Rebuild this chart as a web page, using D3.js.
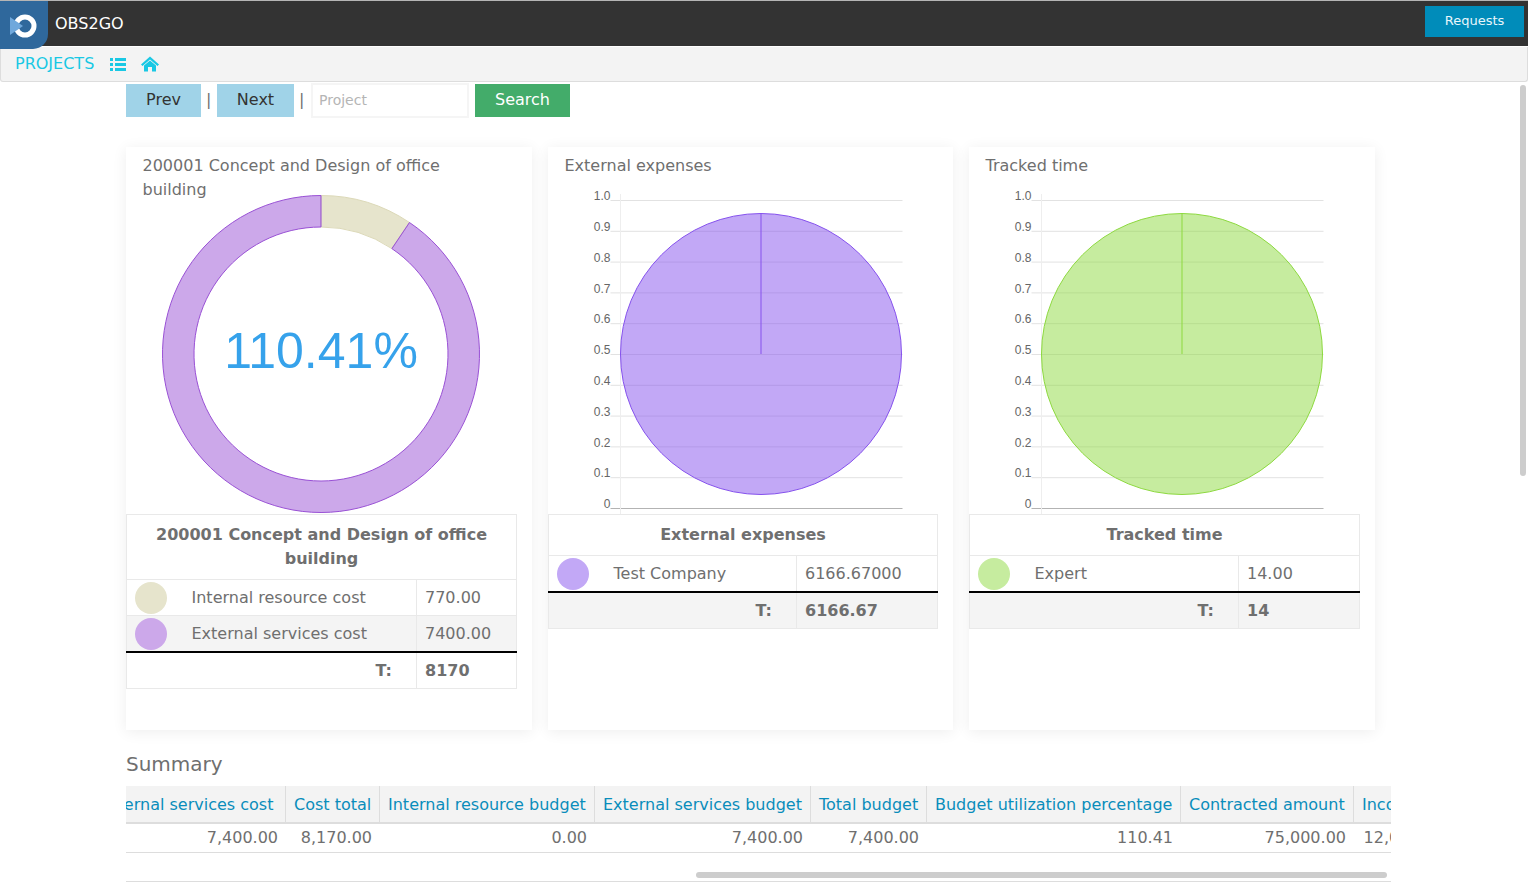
<!DOCTYPE html>
<html>
<head>
<meta charset="utf-8">
<title>OBS2GO</title>
<script src="https://cdnjs.cloudflare.com/ajax/libs/d3/7.8.5/d3.min.js"></script>
<style>
  html, body { margin: 0; padding: 0; width: 1528px; height: 885px; overflow: hidden; background: #fff; }
  body { font-family: "DejaVu Sans", sans-serif; color: #6f6f6f; position: relative; }
  .abs { position: absolute; box-sizing: border-box; white-space: nowrap; }
  .btn { text-align: center; line-height: 31px; font-size: 16px; }
  .card { background: #fff; box-shadow: 0 2px 14px rgba(0,0,0,.07); }
  .cardtitle { font-size: 16px; line-height: 24px; color: #6f6f6f; white-space: normal; }
  table { border-collapse: collapse; table-layout: fixed; font-size: 16px; color: #6f6f6f; position: absolute; }
  .legend td { border: 1px solid #e9e9e9; padding: 0 8px; height: 35px; box-sizing: border-box; position: relative; }
  .legend th { border: 1px solid #e9e9e9; padding: 8px 20px; font-weight: bold; line-height: 24px; }
  .legend tr.total td { border-top: 2px solid #000; font-weight: bold; }
  .legend tr.shade td { background: #f4f4f4; }
  .dot { position: absolute; border-radius: 50%; width: 32px; height: 32px; left: 8px; top: 1.5px; }
  #scroller { left: 126px; top: 786px; width: 1265px; height: 68px; overflow: hidden; }
  .col { position: absolute; top: 0; box-sizing: border-box; }
  .head { height: 38px; line-height: 38px; padding: 0 8px; color: #0a8dbb; background: #f3f3f3; border-right: 1px solid #ddd; border-bottom: 2px solid #ddd; overflow: hidden; }
  .val { height: 29px; line-height: 28px; padding: 0 8px; text-align: right; border-bottom: 1px solid #ddd; font-size: 16px; }
  svg { position: absolute; left: 0; top: 0; pointer-events: none; }
</style>
</head>
<body>
<div class="abs" style="left:0;top:0;width:1528px;height:1px;background:#b5b5b5"></div>
<div class="abs" style="left:0;top:1px;width:1528px;height:45px;background:#333"></div>
<div class="abs" style="left:0;top:47px;width:1528px;height:35px;background:#f3f3f3;border:1px solid #ddd;border-top:none;border-radius:0 0 3px 3px"></div>
<div class="abs" style="left:0;top:1px;width:48px;height:48px;background:#2f689c;border-radius:0 0 15px 0"></div>
<div class="abs" style="left:55px;top:13px;font-size:16px;line-height:22px;color:#fff">OBS2GO</div>
<div class="abs" style="left:1425px;top:6px;width:99px;height:31px;background:#008cba;color:#e8f6fb;font-size:13px;line-height:29px;text-align:center">Requests</div>
<div class="abs" style="left:15px;top:53px;font-size:16px;line-height:22px;color:#19c8e4">PROJECTS</div>

<div class="abs btn" style="left:126px;top:84px;width:75px;height:33px;background:#a0d3e8;color:#333">Prev</div>
<div class="abs" style="left:206px;top:89px;font-size:16px;line-height:22px">|</div>
<div class="abs btn" style="left:217px;top:84px;width:77px;height:33px;background:#a0d3e8;color:#333">Next</div>
<div class="abs" style="left:299px;top:89px;font-size:16px;line-height:22px">|</div>
<div class="abs" style="left:311px;top:83px;width:158px;height:35px;border:2px solid #f5f5f5;padding-left:6px;font-size:14px;line-height:31px;color:#b5b5b5">Project</div>
<div class="abs btn" style="left:475px;top:84px;width:95px;height:33px;background:#43ac6a;color:#fff">Search</div>

<div class="abs" style="left:126px;top:751px;font-size:20px;line-height:26px">Summary</div>
<div class="abs" id="scroller"></div>
<div class="abs" style="left:696px;top:872px;width:691px;height:6px;background:#cdcdcd;border-radius:3px"></div>
<div class="abs" style="left:126px;top:881px;width:1265px;height:1px;background:#ddd"></div>
<div class="abs" style="left:1520px;top:85px;width:6px;height:391px;background:#cdcdcd;border-radius:3px"></div>

<script>
  const costs = [
    {name: "Internal resource cost", value: 770, label: "770.00", fill: "rgba(205,201,153,.5)", stroke: "#dcd9b8", dot: "#e6e4cc"},
    {name: "External services cost", value: 7400, label: "7400.00", fill: "rgba(153,81,213,.5)", stroke: "#9951d5", dot: "#cca8ea"}
  ]

  const panels = [
    {left: 548, title: "External expenses", split: 248, width: 389, cx: 761, axisX: 620,
     fill: "rgba(133,81,237,.5)", stroke: "#8551ed", dot: "#c2a8f6",
     rows: [{name: "Test Company", value: 6166.67, label: "6166.67000"}], total: "6166.67"},
    {left: 969, title: "Tracked time", split: 269, width: 390, cx: 1182, axisX: 1041,
     fill: "rgba(141,217,63,.5)", stroke: "#8dd93f", dot: "#c6ec9f",
     rows: [{name: "Expert", value: 14, label: "14.00"}], total: "14"}
  ]

  const summary = [
    {head: "External services cost", value: "7,400.00", x: -36, w: 196},
    {head: "Cost total", value: "8,170.00", x: 160, w: 94},
    {head: "Internal resource budget", value: "0.00", x: 254, w: 215},
    {head: "External services budget", value: "7,400.00", x: 469, w: 216},
    {head: "Total budget", value: "7,400.00", x: 685, w: 116},
    {head: "Budget utilization percentage", value: "110.41", x: 801, w: 254},
    {head: "Contracted amount", value: "75,000.00", x: 1055, w: 173},
    {head: "Income", value: "12,000.00", x: 1228, w: 99},
    {head: "Gpm", value: "31.92", x: 1327, w: 62}
  ]

  const body = d3.select("body")

  // cards
  const cards = [{x: 126, t: "200001 Concept and Design of office building"},
                 {x: 548, t: panels[0].title}, {x: 969, t: panels[1].title}]
  cards.forEach(c => {
    body.insert("div", "script").attr("class", "abs card")
      .style("left", c.x + "px").style("top", "147px")
      .style("width", (c.x == 126 ? 406 : c.x == 548 ? 405 : 406) + "px").style("height", "583px")
    body.insert("div", "script").attr("class", "abs cardtitle")
      .style("left", (c.x + 16.5) + "px").style("top", "154px").style("width", "340px").text(c.t)
  })

  const svg = body.append("svg").attr("width", 1528).attr("height", 885)

  // logo and nav icons
  const logo = svg.append("g").attr("transform", "translate(25,26)")
  logo.append("circle").attr("r", 9).attr("fill", "none").attr("stroke", "#fff").attr("stroke-width", 5)
  logo.append("path").attr("d", "M-15,-9L-2,0L-15,9Z").attr("fill", "#6fa8dc")
  const nav = svg.append("g").attr("fill", "#19c8e4")
  d3.range(3).forEach(i => {
    nav.append("rect").attr("x", 110).attr("y", 58 + i * 5).attr("width", 3).attr("height", 3)
    nav.append("rect").attr("x", 115).attr("y", 58 + i * 5).attr("width", 11).attr("height", 3)
  })
  nav.append("path").attr("d", "M150,56.5L159,64.5L157.5,66L150,59.5L142.5,66L141,64.5Z")
  nav.append("path").attr("d", "M144,65.5L150,60.5L156,65.5V71.5H152V67H148V71.5H144Z")

  // donut
  const pie = d3.pie().sort(null).value(d => d.value)
  const arc = d3.arc().innerRadius(127).outerRadius(158.5)
  svg.append("g").attr("transform", "translate(321,354)")
    .selectAll("path").data(pie(costs)).join("path")
    .attr("d", arc).attr("fill", d => d.data.fill).attr("stroke", d => d.data.stroke)

  svg.append("text").attr("x", 321).attr("y", 368).attr("text-anchor", "middle")
    .attr("font-family", "Liberation Sans").attr("font-size", 50).attr("fill", "#36a2eb")
    .text("110.41%")

  // pies with axes
  const y = d3.scaleLinear().domain([0, 1]).range([508, 200])
  panels.forEach(p => {
    const g = svg.append("g")
    const ay = g.append("g").attr("transform", `translate(${p.axisX + 0.5},0)`)
      .call(d3.axisLeft(y).tickValues(d3.range(0, 11).map(d => d / 10)).tickSize(10).tickPadding(0)
        .tickFormat(d => d === 0 ? "0" : d.toFixed(1)))
    ay.select(".domain").remove()
    ay.selectAll("text").attr("font-family", "Liberation Sans").attr("font-size", 12).attr("fill", "#666").attr("dy", "-0.02em")
    ay.selectAll(".tick line").attr("stroke", "#e2e2e2")
    ay.selectAll(".tick").append("line").attr("x1", 0).attr("x2", 282)
      .attr("stroke", d => d === 0 ? "#b3b3b3" : "#e2e2e2")
    ay.selectAll(".tick").filter(d => d === 0).select("line").attr("stroke", "#b3b3b3")
    g.append("line").attr("x1", p.axisX + 0.5).attr("x2", p.axisX + 0.5).attr("y1", 194).attr("y2", 514).attr("stroke", "#eee")

    const c = g.append("g").attr("transform", `translate(${p.cx},354)`)
    const r = 140.5
    c.selectAll("path.slice").data(pie(p.rows)).join("path").attr("class", "slice")
      .attr("d", d3.arc().innerRadius(0).outerRadius(r))
      .attr("fill", p.fill).attr("stroke", p.stroke)
    // chart.js draws the closing edge of the only slice
    c.selectAll("path.edge").data(pie(p.rows)).join("path").attr("class", "edge")
      .attr("d", d => d3.lineRadial()([[d.startAngle, 0], [d.startAngle, r]]))
      .attr("fill", "none").attr("stroke", p.stroke)
  })

  // legend tables
  function legendTable(left, width, split, title, rows, total, dots, rowH) {
    const t = body.append("table").attr("class", "legend")
      .style("left", left + "px").style("top", "514px").style("width", width + "px")
    const cg = t.append("colgroup")
    cg.append("col").style("width", split + "px")
    cg.append("col").style("width", (width - split) + "px")
    t.append("tr").append("th").attr("colspan", 2).text(title)
    rows.forEach((r, i) => {
      const tr = t.append("tr")
      if (rows.length > 1 && i == 1) tr.attr("class", "shade")
      const td = tr.append("td").style("height", rowH + "px").style("padding-left", "64.5px")
      td.append("div").attr("class", "dot").style("background", dots[i])
      td.append("span").text(r.name)
      tr.append("td").style("height", rowH + "px").text(r.label)
    })
    const tf = t.append("tr").attr("class", "total" + (rows.length == 1 ? " shade" : ""))
    tf.append("td").style("text-align", "right").style("padding-right", "24px").style("height", "37px").text("T:")
    tf.append("td").style("height", "37px").text(total)
  }
  legendTable(126, 390, 290, "200001 Concept and Design of office building", costs, "8170", costs.map(d => d.dot), 36)
  panels.forEach(p => legendTable(p.left, p.width, p.split, p.title, p.rows, p.total, [p.dot], 36))

  // summary table
  const col = d3.select("#scroller").selectAll("div.col").data(summary).join("div")
    .attr("class", "col").style("left", d => d.x + "px").style("width", d => d.w + "px")
  col.append("div").attr("class", "head").style("box-sizing", "border-box").text(d => d.head)
  col.append("div").attr("class", "val").style("box-sizing", "border-box").text(d => d.value)
</script>
</body>
</html>
